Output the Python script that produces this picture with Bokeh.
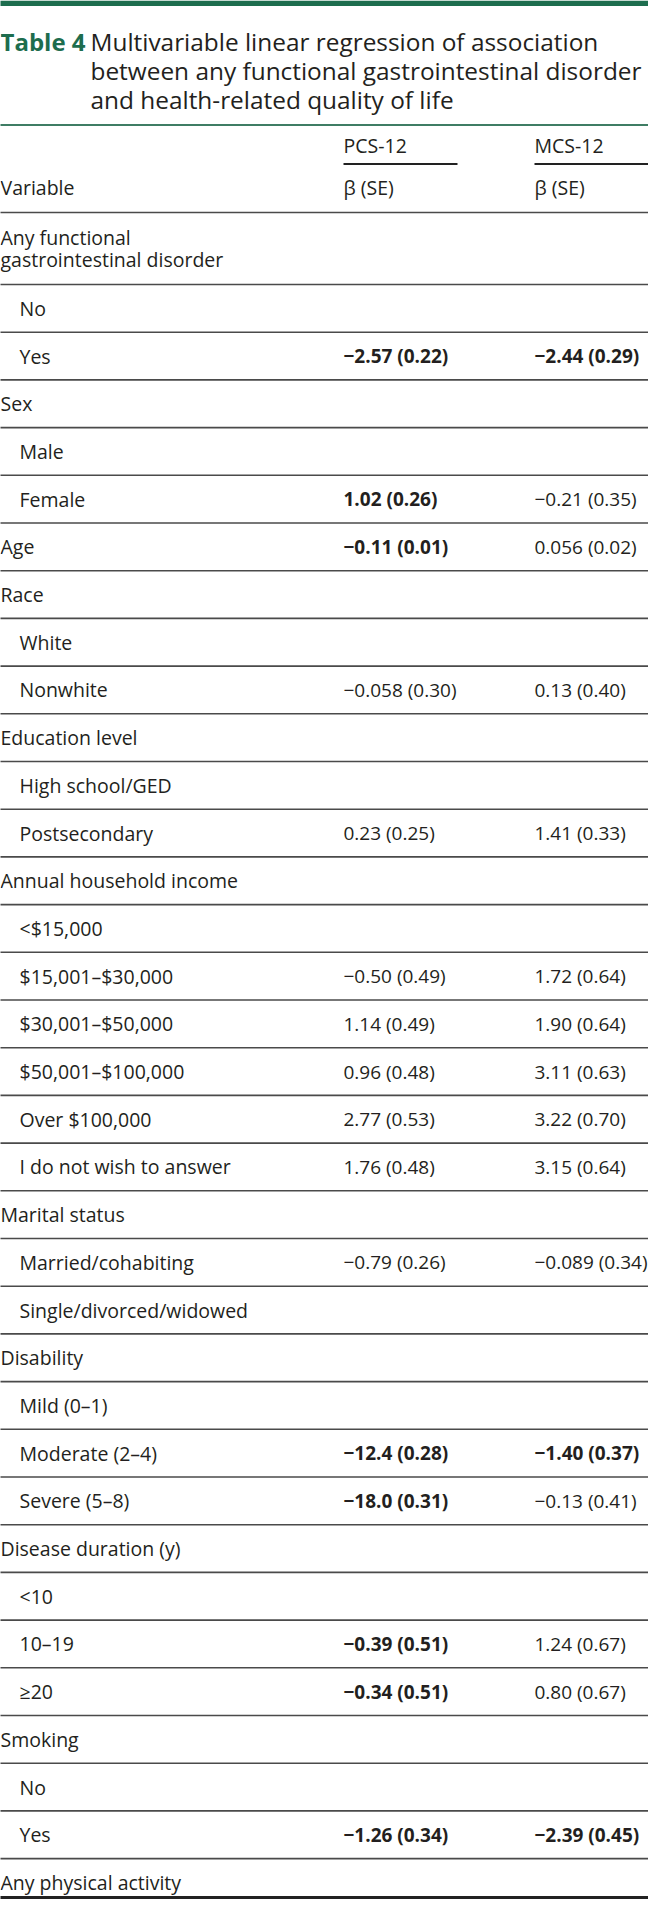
from bokeh.plotting import figure
from bokeh.models import Range1d, ColumnDataSource
from bokeh.core.properties import value
from bokeh.embed import file_html
from bokeh.resources import INLINE

# ---------------- data ----------------
table_label = "Table 4"
title_lines = [
    "Multivariable linear regression of association",
    "between any functional gastrointestinal disorder",
    "and health-related quality of life",
]
var_header = "Variable"
col_groups = ["PCS-12", "MCS-12"]
col_stats = ["β (SE)", "β (SE)"]

labels = [
    "Any functional\ngastrointestinal disorder", "No", "Yes",
    "Sex", "Male", "Female",
    "Age",
    "Race", "White", "Nonwhite",
    "Education level", "High school/GED", "Postsecondary",
    "Annual household income", "<$15,000", "$15,001–$30,000", "$30,001–$50,000",
    "$50,001–$100,000", "Over $100,000", "I do not wish to answer",
    "Marital status", "Married/cohabiting", "Single/divorced/widowed",
    "Disability", "Mild (0–1)", "Moderate (2–4)", "Severe (5–8)",
    "Disease duration (y)", "<10", "10–19", "≥20",
    "Smoking", "No", "Yes",
    "Any physical activity",
]
levels = [0, 1, 1,
          0, 1, 1,
          0,
          0, 1, 1,
          0, 1, 1,
          0, 1, 1, 1, 1, 1, 1,
          0, 1, 1,
          0, 1, 1, 1,
          0, 1, 1, 1,
          0, 1, 1,
          0]
pcs = ["", "", "−2.57 (0.22)",
       "", "", "1.02 (0.26)",
       "−0.11 (0.01)",
       "", "", "−0.058 (0.30)",
       "", "", "0.23 (0.25)",
       "", "", "−0.50 (0.49)", "1.14 (0.49)", "0.96 (0.48)", "2.77 (0.53)", "1.76 (0.48)",
       "", "−0.79 (0.26)", "",
       "", "", "−12.4 (0.28)", "−18.0 (0.31)",
       "", "", "−0.39 (0.51)", "−0.34 (0.51)",
       "", "", "−1.26 (0.34)",
       ""]
mcs = ["", "", "−2.44 (0.29)",
       "", "", "−0.21 (0.35)",
       "0.056 (0.02)",
       "", "", "0.13 (0.40)",
       "", "", "1.41 (0.33)",
       "", "", "1.72 (0.64)", "1.90 (0.64)", "3.11 (0.63)", "3.22 (0.70)", "3.15 (0.64)",
       "", "−0.089 (0.34)", "",
       "", "", "−1.40 (0.37)", "−0.13 (0.41)",
       "", "", "1.24 (0.67)", "0.80 (0.67)",
       "", "", "−2.39 (0.45)",
       ""]
pcs_bold = [0, 0, 1, 0, 0, 1, 1, 0, 0, 0, 0, 0, 0, 0, 0, 0, 0, 0, 0, 0,
            0, 0, 0, 0, 0, 1, 1, 0, 0, 1, 1, 0, 0, 1, 0]
mcs_bold = [0, 0, 1, 0, 0, 0, 0, 0, 0, 0, 0, 0, 0, 0, 0, 0, 0, 0, 0, 0,
            0, 0, 0, 0, 0, 1, 0, 0, 0, 0, 0, 0, 0, 1, 0]

# ---------------- layout ----------------
FONT = value("Open Sans")
TXT = "#231f20"
GREEN = "#1d6d4e"
RULE = "#4a4a4a"
BODY = "19.5px"
VALS = "19px"

X_CAT, X_SUB, X_PCS, X_MCS = 8, 27, 351, 542
HEADER_BOTTOM = 220
ROW_H, ROW_H2 = 47.7, 72.0

p = figure(width=648, height=1899, x_range=Range1d(8, 656), y_range=Range1d(1907, 8),
           output_backend="svg", toolbar_location=None, min_border=0,
           x_axis_location=None, y_axis_location=None)
p.grid.visible = False
p.outline_line_color = None
p.background_fill_color = "white"
p.border_fill_color = "white"

# top green band
p.quad(left=[0], right=[664], top=[8], bottom=[13.5], fill_color=GREEN, line_color=None)

# title
p.text(x=[8], y=[49], text=[table_label], text_font=FONT, text_font_size="24px",
       text_font_style="bold", text_color=GREEN, text_baseline="alphabetic")
p.text(x=[98] * len(title_lines), y=[49 + 29 * i for i in range(len(title_lines))],
       text=title_lines, text_font=FONT, text_font_size="24.4px", text_color=TXT,
       text_baseline="alphabetic")

# green rule under title
p.segment(x0=[0], y0=[132.5], x1=[664], y1=[132.5], line_color="#3f7d64", line_width=2.2)

# column headers
p.text(x=[X_PCS, X_MCS], y=[153, 153], text=col_groups, text_font=FONT, text_font_size=BODY,
       text_color=TXT, text_baseline="middle")
p.segment(x0=[X_PCS, X_MCS], y0=[171.5, 171.5], x1=[465, 664], y1=[171.5, 171.5],
          line_color="#222222", line_width=2)
p.text(x=[X_CAT, X_PCS, X_MCS], y=[194.5] * 3, text=[var_header] + col_stats, text_font=FONT,
       text_font_size=BODY, text_color=TXT, text_baseline="middle")
p.segment(x0=[0], y0=[220], x1=[664], y1=[220], line_color=RULE, line_width=1.6)

# body rows
lab_x, lab_y, lab_t = [], [], []
vals = {0: dict(x=[], y=[], text=[]), 1: dict(x=[], y=[], text=[])}
rule_y = []
top = HEADER_BOTTOM
for i, lab in enumerate(labels):
    lines = lab.split("\n")
    h = ROW_H2 if len(lines) > 1 else ROW_H
    mid = top + h / 2
    lx = X_CAT if levels[i] == 0 else X_SUB
    for k, ln in enumerate(lines):
        lab_x.append(lx)
        lab_y.append(mid + (k - (len(lines) - 1) / 2) * 22.5)
        lab_t.append(ln)
    if pcs[i]:
        d = vals[pcs_bold[i]]
        d["x"].append(X_PCS); d["y"].append(mid); d["text"].append(pcs[i])
    if mcs[i]:
        d = vals[mcs_bold[i]]
        d["x"].append(X_MCS); d["y"].append(mid); d["text"].append(mcs[i])
    top += h
    rule_y.append(top)

p.text(x="x", y="y", text="text", source=ColumnDataSource(dict(x=lab_x, y=lab_y, text=lab_t)),
       text_font=FONT, text_font_size=BODY, text_color=TXT, text_baseline="middle")
p.text(x="x", y="y", text="text", source=ColumnDataSource(vals[0]),
       text_font=FONT, text_font_size=VALS, text_color=TXT, text_baseline="middle")
p.text(x="x", y="y", text="text", source=ColumnDataSource(vals[1]),
       text_font=FONT, text_font_size=VALS, text_font_style="bold", text_color=TXT,
       text_baseline="middle")

inner = rule_y[:-1]
p.segment(x0=[0] * len(inner), y0=inner, x1=[664] * len(inner), y1=inner,
          line_color=RULE, line_width=1.6)
# thick closing rule (kept inside the visible canvas)
p.segment(x0=[0], y0=[min(rule_y[-1], 1905)], x1=[664], y1=[min(rule_y[-1], 1905)],
          line_color="#222222", line_width=3.2)

open("out.html", "w").write(file_html(p, INLINE))
